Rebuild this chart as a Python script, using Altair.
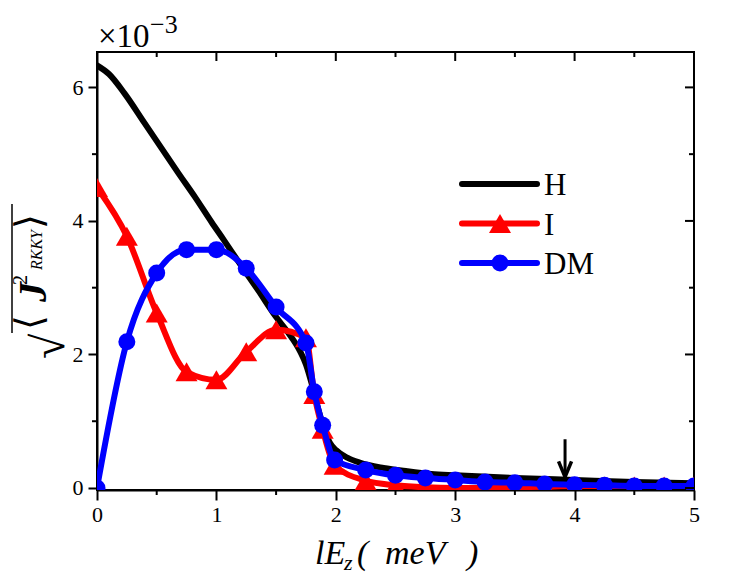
import altair as alt
import pandas as pd

# ---------------- data (values in units of 1e-3) ----------------
h_x = [0, 0.1, 0.23, 0.4, 0.54, 0.68, 0.82, 0.96, 1.06, 1.2, 1.35, 1.5, 1.6, 1.7, 1.75,
       1.8, 1.85, 1.9, 1.95, 2.0, 2.1, 2.2, 2.4, 2.6, 2.8, 3.0, 3.5, 4.0, 4.5, 5.0]
h_y = [6.33, 6.2, 5.91, 5.46, 5.09, 4.72, 4.36, 3.98, 3.72, 3.35, 2.96, 2.56, 2.33, 2.05, 1.85,
       1.55, 1.2, 0.9, 0.68, 0.57, 0.45, 0.38, 0.30, 0.25, 0.21, 0.19, 0.15, 0.12, 0.09, 0.07]

m_x = [0, 0.25, 0.5, 0.75, 1.0, 1.25, 1.5, 1.75, 1.82, 1.89, 1.99, 2.25, 2.5, 2.75,
       3.0, 3.25, 3.5, 3.75, 4.0, 4.25, 4.5, 4.75, 5.0]
i_y = [4.5, 3.77, 2.62, 1.74, 1.62, 2.04, 2.37, 2.25, 1.40, 0.88, 0.34, 0.11, 0.04, 0.01,
       0.0, 0.0, 0.01, 0.02, 0.03, 0.03, 0.03, 0.03, 0.03]
dm_y = [0.0, 2.19, 3.22, 3.57, 3.57, 3.29, 2.71, 2.17, 1.44, 0.94, 0.42, 0.27, 0.19, 0.15,
        0.12, 0.09, 0.08, 0.06, 0.05, 0.04, 0.03, 0.03, 0.03]

x_major = [0, 1, 2, 3, 4, 5]
x_minor = [0.5, 1.5, 2.5, 3.5, 4.5]
y_major = [0, 2, 4, 6]
y_minor = [1, 3, 5]

arrow_x = [3.92]
arrow_top = [0.73]
arrow_tip = [0.165]

legend_names = ["H", "I", "DM"]
legend_colors = ["#000000", "#ff0000", "#0000ff"]
legend_shapes = [None, "triangle-up", "circle"]

# ---------------- settings ----------------
FONT = "Liberation Serif"
W, H = 597, 438
xs = alt.Scale(domain=[0, 5], nice=False, zero=False)
ys = alt.Scale(domain=[-0.03, 6.53], nice=False, zero=False)
x_axis = alt.Axis(values=x_major, format="d", title=None, tickSize=10, labelPadding=4,
                  grid=False, labelFlush=False, labelFont=FONT, labelFontSize=22,
                  labelColor="black", labelOverlap=False)
y_axis = alt.Axis(values=y_major, format="d", title=None, tickSize=9, labelPadding=5,
                  grid=False, labelFlush=False, labelFont=FONT, labelFontSize=22,
                  labelColor="black", labelOverlap=False)
XE = alt.X("x:Q", scale=xs, axis=x_axis)
YE = alt.Y("y:Q", scale=ys, axis=y_axis)

df_h = pd.DataFrame({"x": h_x, "y": h_y})
df_i = pd.DataFrame({"x": m_x, "y": i_y})
df_dm = pd.DataFrame({"x": m_x, "y": dm_y})

LW = 6

h_line = alt.Chart(df_h).mark_line(color="black", strokeWidth=LW, interpolate="monotone",
                                   strokeCap="round", strokeJoin="round", clip=True).encode(x=XE, y=YE)
i_line = alt.Chart(df_i).mark_line(color="#ff0000", strokeWidth=LW, interpolate="monotone",
                                   strokeCap="round", strokeJoin="round", clip=True).encode(x=XE, y=YE)
i_pts = alt.Chart(df_i).mark_point(shape="triangle-up", size=484, filled=True, color="#ff0000",
                                   opacity=1, clip=True).encode(x=XE, y=YE)
dm_line = alt.Chart(df_dm).mark_line(color="#0000ff", strokeWidth=LW, interpolate="monotone",
                                     strokeCap="round", strokeJoin="round", clip=True).encode(x=XE, y=YE)
dm_pts = alt.Chart(df_dm).mark_point(shape="circle", size=289, filled=True, color="#0000ff",
                                     opacity=1, clip=True).encode(x=XE, y=YE)

# ---------------- extra ticks (top/right mirrored, minor) ----------------
def rule(df, **enc):
    return alt.Chart(df).mark_rule(color="black", strokeWidth=2).encode(**enc)

df_xM = pd.DataFrame({"x": x_major})
df_xm = pd.DataFrame({"x": x_minor})
df_yM = pd.DataFrame({"y": y_major})
df_ym = pd.DataFrame({"y": y_minor})

ticks = [
    rule(df_xM, x=XE, y=alt.value(0), y2=alt.value(9)),
    rule(df_xm, x=XE, y=alt.value(0), y2=alt.value(5)),
    rule(df_xm, x=XE, y=alt.value(H), y2=alt.value(H + 5)),
    rule(df_yM, y=YE, x=alt.value(W), x2=alt.value(W - 9)),
    rule(df_ym, y=YE, x=alt.value(W), x2=alt.value(W - 5)),
    rule(df_ym, y=YE, x=alt.value(0), x2=alt.value(-5)),
]

# ---------------- arrow ----------------
df_arrow = pd.DataFrame({"x": arrow_x, "y": arrow_top, "y2": [arrow_tip[0] + 0.05]})
df_tip = pd.DataFrame({"x": arrow_x, "y": arrow_tip})
arrow_shaft = alt.Chart(df_arrow).mark_rule(color="black", strokeWidth=3).encode(
    x=XE, y=YE, y2="y2:Q")
arrow_head = alt.Chart(df_tip).mark_point(shape="M-1,-2.4L0,0L1,-2.4", size=169, filled=False,
                                          color="black", strokeWidth=3.5, opacity=1,
                                          strokeJoin="miter").encode(x=XE, y=YE)

# ---------------- legend ----------------
one = pd.DataFrame({"a": [0]})
legend_layers = []
for i, (nm, col, shp) in enumerate(zip(legend_names, legend_colors, legend_shapes)):
    ry = 132 + i * 39.5
    legend_layers.append(alt.Chart(one).mark_rule(color=col, strokeWidth=LW, strokeCap="round").encode(
        x=alt.value(365), x2=alt.value(440), y=alt.value(ry)))
    if shp:
        legend_layers.append(alt.Chart(one).mark_point(shape=shp, size=484 if shp == "triangle-up" else 289,
                                                       filled=True, color=col, opacity=1).encode(
            x=alt.value(403), y=alt.value(ry)))
    legend_layers.append(alt.Chart(one).mark_text(text=nm, font=FONT, fontSize=31, align="left",
                                                  baseline="middle", color="black").encode(
        x=alt.value(447), y=alt.value(ry + 2)))

# ---------------- annotation texts ----------------
def txt(s, x, y, size, style="normal", weight="normal", angle=0, font=FONT, baseline="alphabetic"):
    return alt.Chart(one).mark_text(text=s, font=font, fontSize=size, fontStyle=style,
                                    fontWeight=weight, angle=angle, align="left",
                                    baseline=baseline, color="black").encode(
        x=alt.value(x), y=alt.value(y))

annot = [
    # x10^-3
    txt("×10", 1, -5, 33),
    txt("−3", 53, -19, 26),
    # x title
    txt("lE", 218, 512, 34, style="italic"),
    txt("z", 247, 518, 22, style="italic"),
    txt("(", 260, 512, 34, style="italic"),
    txt("meV", 288, 512, 34, style="italic"),
    txt(")", 370, 512, 34, style="italic"),
    # y title (rotated)
    txt("√", -33, 307, 46, angle=270),
    txt("⟨", -55, 278, 38, angle=270, font="DejaVu Serif"),
    txt("J", -51, 250, 40, style="italic", weight="bold", angle=270),
    txt("2", -70, 233, 20, angle=270),
    txt("RKKY", -55, 218, 16, style="italic", angle=270),
    txt("⟩", -55, 177, 38, angle=270, font="DejaVu Serif"),
]
vinc = alt.Chart(one).mark_rule(color="black", strokeWidth=1.5).encode(
    x=alt.value(-85), y=alt.value(152), y2=alt.value(281))

chart = alt.layer(
    h_line, i_line, i_pts, dm_line, dm_pts, *ticks, arrow_shaft, arrow_head,
    *legend_layers, *annot, vinc
).properties(
    width=W, height=H,
    padding={"left": 89, "top": 44, "right": 45, "bottom": 86},
    autosize=alt.AutoSizeParams(type="none"),
).configure_view(
    stroke="black", strokeWidth=2
).configure_axis(
    domainColor="black", domainWidth=2, tickColor="black", tickWidth=2,
    labelColor="black", labelFont=FONT, labelFontSize=22
)

chart.save("out.html", embed_options={"renderer": "svg", "actions": False})
